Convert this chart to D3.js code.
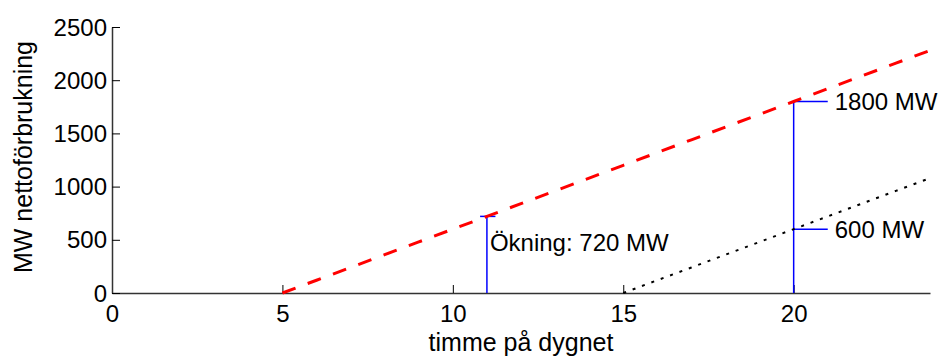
<!DOCTYPE html>
<html>
  <head>
    <meta charset="utf-8">
    <script src="https://d3js.org/d3.v7.min.js"></script>
    <style>
      body { margin: 0px; background: #fff; }
      .domain { stroke: #333; stroke-width: 1.5px; }
      .tick line { stroke: #000; }
      .axis-label, .note { fill: #000; font-size: 24px; font-family: "Liberation Sans", Arial, sans-serif; }
    </style>
  </head>
  <body>
    <div id="chart"></div>
    <script>
      // net consumption ramps (hour of day -> MW)
      const rampHours = [5, 6, 7, 8, 9, 10, 11, 12, 13, 14, 15, 16, 17, 18, 19, 20, 21, 22, 23, 24];
      const rampMW = [0, 120, 240, 360, 480, 600, 720, 840, 960, 1080, 1200, 1320, 1440, 1560, 1680, 1800, 1920, 2040, 2160, 2280];
      const eveningHours = [15, 16, 17, 18, 19, 20, 21, 22, 23, 24];
      const eveningMW = [0, 120, 240, 360, 480, 600, 720, 840, 960, 1080];

      const xTicks = [0, 5, 10, 15, 20];
      const yTicks = [0, 500, 1000, 1500, 2000, 2500];

      // annotation markers
      const noteHours = [11, 20, 20];
      const noteMW = [720, 1800, 600];
      const noteText = ['Ökning: 720 MW', '1800 MW', '600 MW'];

      const width = 943, height = 356;
      const margin = { left: 112, right: 13, top: 27, bottom: 63 };
      const innerWidth = width - margin.left - margin.right;
      const innerHeight = height - margin.top - margin.bottom;

      const svg = d3.select('#chart').append('svg')
        .attr('width', width)
        .attr('height', height)
        .style('display', 'block');

      const g = svg.append('g')
        .attr('transform', `translate(${margin.left},${margin.top})`);

      const xScale = d3.scaleLinear().domain([0, 24]).range([0, innerWidth]);
      const yScale = d3.scaleLinear().domain([0, 2500]).range([innerHeight, 0]);

      const xAxis = d3.axisBottom(xScale)
        .tickValues(xTicks)
        .tickFormat(d3.format('d'))
        .tickSizeInner(-8)
        .tickSizeOuter(0)
        .tickPadding(12);

      const yAxis = d3.axisLeft(yScale)
        .tickValues(yTicks)
        .tickFormat(d3.format('d'))
        .tickSizeInner(-8)
        .tickSizeOuter(0)
        .tickPadding(5);

      const fontFam = '"Liberation Sans", Arial, sans-serif';

      const xAxisG = g.append('g')
        .attr('transform', `translate(0, ${innerHeight})`)
        .call(xAxis)
        .attr('font-size', 24)
        .attr('font-family', fontFam);
      xAxisG.selectAll('.tick text')
        .attr('fill', '#000')
        .attr('dy', null)
        .attr('y', 29);

      const yAxisG = g.append('g')
        .call(yAxis)
        .attr('font-size', 24)
        .attr('font-family', fontFam);
      yAxisG.selectAll('.tick text')
        .attr('fill', '#000')
        .attr('dy', null)
        .attr('y', 8);

      // blue marker lines
      const blue = g.append('g').attr('stroke', '#0000ff').attr('stroke-width', 1.5);
      blue.append('line')
        .attr('x1', xScale(noteHours[0])).attr('x2', xScale(noteHours[0]))
        .attr('y1', yScale(0)).attr('y2', yScale(noteMW[0]));
      blue.append('line')
        .attr('x1', xScale(noteHours[0] - 0.2)).attr('x2', xScale(noteHours[0] + 0.25))
        .attr('y1', yScale(noteMW[0])).attr('y2', yScale(noteMW[0]));
      blue.append('line')
        .attr('x1', xScale(noteHours[1])).attr('x2', xScale(noteHours[1]))
        .attr('y1', yScale(0)).attr('y2', yScale(noteMW[1]));
      [1, 2].forEach(i => {
        blue.append('line')
          .attr('x1', xScale(noteHours[i])).attr('x2', xScale(noteHours[i] + 1))
          .attr('y1', yScale(noteMW[i])).attr('y2', yScale(noteMW[i]));
      });

      const line = (hrs) => d3.line()
        .x((d, i) => xScale(hrs[i]))
        .y(d => yScale(d));

      g.append('path')
        .datum(rampMW)
        .attr('d', line(rampHours))
        .attr('fill', 'none')
        .attr('stroke', '#ff0000')
        .attr('stroke-width', 3)
        .attr('stroke-dasharray', '14,13');

      g.append('path')
        .datum(eveningMW)
        .attr('d', line(eveningHours))
        .attr('fill', 'none')
        .attr('stroke', '#000')
        .attr('stroke-width', 2)
        .attr('stroke-dasharray', '3,7');

      // annotation texts
      g.append('text').attr('class', 'note')
        .attr('x', xScale(noteHours[0]) + 3)
        .attr('y', yScale(noteMW[0]) + 35)
        .text(noteText[0]);
      g.append('text').attr('class', 'note')
        .attr('x', xScale(noteHours[1] + 1) + 7)
        .attr('y', yScale(noteMW[1]) + 9)
        .text(noteText[1]);
      g.append('text').attr('class', 'note')
        .attr('x', xScale(noteHours[2] + 1) + 7)
        .attr('y', yScale(noteMW[2]) + 9)
        .text(noteText[2]);

      g.append('text')
        .attr('class', 'axis-label')
        .attr('x', innerWidth / 2)
        .attr('y', innerHeight + 58)
        .style('text-anchor', 'middle')
        .style('font-size', '25px')
        .text('timme på dygnet');

      g.append('text')
        .attr('class', 'axis-label')
        .attr('x', -innerHeight / 2 + 3)
        .attr('y', -80)
        .attr('transform', 'rotate(-90)')
        .style('text-anchor', 'middle')
        .style('font-size', '25px')
        .text('MW nettoförbrukning');
    </script>
  </body>
</html>
